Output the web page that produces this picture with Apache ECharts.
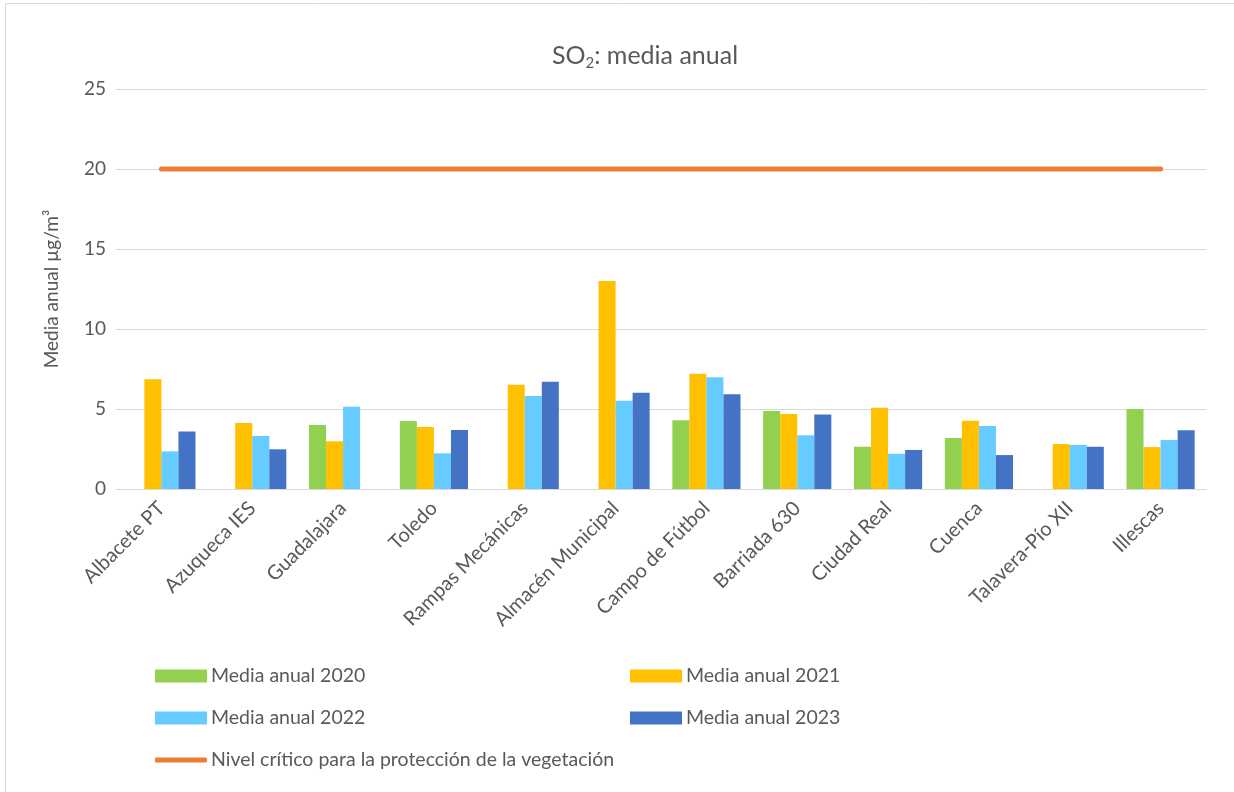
<!DOCTYPE html>
<html>
<head>
<meta charset="utf-8">
<script src="https://cdn.jsdelivr.net/npm/echarts@6/dist/echarts.min.js"></script>
<style>html,body{margin:0;padding:0;background:#fff}#c{width:1234px;height:792px}</style>
</head>
<body>
<div id="c"></div>
<script>
const categories = ['Albacete PT','Azuqueca IES','Guadalajara','Toledo','Rampas Mecánicas','Almacén Municipal','Campo de Fútbol','Barriada 630','Ciudad Real','Cuenca','Talavera-Pío XII','Illescas'];
const media2020 = [null, null, 4.0, 4.25, null, null, 4.29, 4.87, 2.64, 3.19, null, 5.0];
const media2021 = [6.86, 4.12, 2.98, 3.87, 6.52, 13.0, 7.2, 4.69, 5.08, 4.27, 2.81, 2.62];
const media2022 = [2.35, 3.31, 5.14, 2.23, 5.81, 5.52, 6.98, 3.36, 2.2, 3.94, 2.75, 3.06];
const media2023 = [3.6, 2.48, null, 3.69, 6.7, 6.02, 5.92, 4.65, 2.44, 2.12, 2.64, 3.67];
const nivelCritico = [20, 20, 20, 20, 20, 20, 20, 20, 20, 20, 20, 20];
const yTicks = {min: 0, max: 25, interval: 5};

const FONT = 'Lato';
const TXT = '#595959';
const names = ['Media anual 2020','Media anual 2021','Media anual 2022','Media anual 2023','Nivel crítico para la protección de la vegetación'];
const colors = ['#92D050','#FFC000','#66CCFF','#4472C4','#ED7D31'];

function leg(name, left, top, isLine) {
  return {
    data: [name], left: left, top: top, orient: 'horizontal',
    itemWidth: 52, itemHeight: isLine ? 5 : 13, icon: isLine ? 'roundRect' : 'rect',
    itemGap: 0, padding: 0, selectedMode: false,
    textStyle: {fontFamily: FONT, fontSize: 19.5, lineHeight: 20, color: TXT, padding: [0,0,0,-1]}
  };
}

const chart = echarts.init(document.getElementById('c'));
chart.setOption({
  animation: false,
  textStyle: {fontFamily: FONT},
  graphic: [{type: 'rect', shape: {x: 5.5, y: 3.5, width: 1300, height: 820}, style: {fill: 'none', stroke: '#D9D9D9', lineWidth: 1}, silent: true}],
  title: {
    text: 'SO{sub|2}: media anual', left: 640, top: 35, textAlign: 'center',
    textStyle: {fontFamily: FONT, fontSize: 25, fontWeight: 'normal', color: TXT,
      rich: {sub: {fontFamily: FONT, fontSize: 15, color: TXT, padding: [16, 0, 0, 0]}}}
  },
  legend: [
    leg(names[0], 155, 666, false),
    leg(names[1], 630, 666, false),
    leg(names[2], 155, 708, false),
    leg(names[3], 630, 708, false),
    leg(names[4], 155, 750, true)
  ],
  grid: {left: 116, right: 28, top: 89, bottom: 303, containLabel: false},
  xAxis: {
    type: 'category', data: categories,
    axisLine: {lineStyle: {color: '#D9D9D9', width: 1}},
    axisTick: {show: false},
    axisLabel: {rotate: 45, interval: 0, fontFamily: FONT, fontSize: 20, color: TXT, margin: 16}
  },
  yAxis: {
    type: 'value', min: yTicks.min, max: yTicks.max, interval: yTicks.interval,
    name: 'Media anual µg/m³', nameLocation: 'middle', nameGap: 55, nameRotate: 90,
    nameTextStyle: {fontFamily: FONT, fontSize: 19, color: TXT},
    axisLine: {show: false}, axisTick: {show: false},
    axisLabel: {fontFamily: FONT, fontSize: 19, color: TXT, margin: 10},
    splitLine: {lineStyle: {color: '#D9D9D9', width: 1}}
  },
  series: [
    {name: names[0], type: 'bar', data: media2020, itemStyle: {color: colors[0]}, barGap: '0%', barCategoryGap: '25%'},
    {name: names[1], type: 'bar', data: media2021, itemStyle: {color: colors[1]}},
    {name: names[2], type: 'bar', data: media2022, itemStyle: {color: colors[2]}},
    {name: names[3], type: 'bar', data: media2023, itemStyle: {color: colors[3]}},
    {name: names[4], type: 'line', data: nivelCritico, symbol: 'none', itemStyle: {color: colors[4]},
      lineStyle: {color: colors[4], width: 5, cap: 'round'}}
  ]
});
</script>
</body>
</html>
